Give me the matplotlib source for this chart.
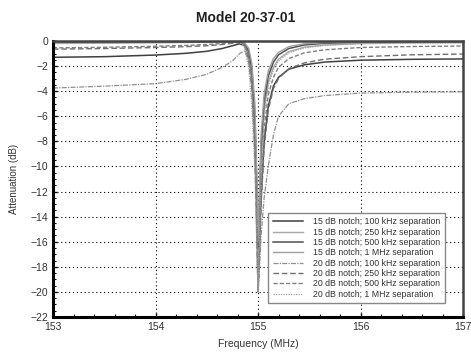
"""Notch filter response curves for Model 20-37-01."""

import matplotlib
matplotlib.use("Agg")
import matplotlib.pyplot as plt
from matplotlib.ticker import MultipleLocator

plt.rcParams["font.family"] = ["Liberation Sans", "DejaVu Sans"]

# frequency grid shared by all curves (MHz)
freq = [153.0, 153.5, 154.0, 154.3, 154.5, 154.65, 154.75, 154.82, 154.87,
        154.91, 154.94, 154.97, 154.99, 155.0, 155.01, 155.03, 155.06, 155.1,
        155.15, 155.2, 155.3, 155.45, 155.65, 156.0, 156.5, 157.0]

# attenuation (dB) per configuration
n15_100k = [-1.30, -1.25, -1.12, -0.98, -0.82, -0.60, -0.38, -0.22, -0.35,
            -1.1, -2.8, -7.0, -13.5, -18.5, -17.0, -12.5, -8.0, -5.2,
            -3.6, -2.9, -2.25, -1.9, -1.68, -1.53, -1.46, -1.43]
n15_250k = [-0.20, -0.18, -0.15, -0.12, -0.10, -0.08, -0.07, -0.10, -0.30,
            -1.0, -2.6, -6.5, -13.0, -17.5, -15.0, -9.5, -5.5, -3.3,
            -2.1, -1.45, -0.85, -0.50, -0.32, -0.20, -0.15, -0.13]
n15_500k = [-0.10, -0.09, -0.07, -0.06, -0.05, -0.04, -0.04, -0.06, -0.22,
            -0.8, -2.2, -6.0, -12.0, -16.5, -14.0, -8.5, -4.8, -2.8,
            -1.7, -1.1, -0.60, -0.32, -0.18, -0.10, -0.07, -0.06]
n15_1m = [-0.05, -0.04, -0.03, -0.03, -0.02, -0.02, -0.02, -0.04, -0.15,
          -0.6, -1.8, -5.0, -11.0, -16.0, -13.0, -7.5, -4.2, -2.4,
          -1.4, -0.90, -0.45, -0.22, -0.12, -0.07, -0.05, -0.04]
n20_100k = [-3.75, -3.60, -3.40, -3.05, -2.65, -2.10, -1.60, -1.00, -0.80,
            -1.6, -3.5, -8.5, -15.0, -20.0, -19.0, -15.5, -12.5, -10.0,
            -7.5, -6.0, -5.0, -4.6, -4.35, -4.15, -4.08, -4.05]
n20_250k = [-0.65, -0.60, -0.52, -0.45, -0.38, -0.28, -0.18, -0.12, -0.40,
            -1.5, -3.8, -9.0, -16.0, -20.0, -18.0, -13.0, -8.5, -5.5,
            -3.8, -3.0, -2.2, -1.75, -1.45, -1.25, -1.10, -1.04]
n20_500k = [-0.55, -0.50, -0.42, -0.35, -0.28, -0.20, -0.12, -0.08, -0.30,
            -1.3, -3.4, -8.5, -15.5, -20.0, -17.5, -12.0, -7.0, -4.3,
            -2.9, -2.1, -1.4, -0.95, -0.70, -0.52, -0.44, -0.40]
n20_1m = [-0.15, -0.13, -0.10, -0.08, -0.06, -0.05, -0.05, -0.10, -0.50,
          -2.2, -5.2, -10.5, -17.0, -20.0, -16.5, -10.5, -6.0, -3.6,
          -2.3, -1.6, -0.95, -0.55, -0.35, -0.22, -0.17, -0.15]

labels = [
    "15 dB notch; 100 kHz separation",
    "15 dB notch; 250 kHz separation",
    "15 dB notch; 500 kHz separation",
    "15 dB notch; 1 MHz separation",
    "20 dB notch; 100 kHz separation",
    "20 dB notch; 250 kHz separation",
    "20 dB notch; 500 kHz separation",
    "20 dB notch; 1 MHz separation",
]
series = [n15_100k, n15_250k, n15_500k, n15_1m,
          n20_100k, n20_250k, n20_500k, n20_1m]

styles = [
    dict(color="#404040", ls="-", lw=1.1),
    dict(color="#a8a8a8", ls="-", lw=1.0),
    dict(color="#505050", ls="-", lw=1.1),
    dict(color="#a0a0a0", ls="-", lw=1.0),
    dict(color="#909090", ls=(0, (4, 1, 1, 1)), lw=0.9),
    dict(color="#707070", ls=(0, (4, 2)), lw=1.0),
    dict(color="#808080", ls=(0, (3, 1.5)), lw=1.0),
    dict(color="#a0a0a0", ls=(0, (1, 1)), lw=0.9),
]

fig = plt.figure(figsize=(4.71, 3.52), dpi=100)
ax = fig.add_axes([53 / 471, 1 - 317 / 352, 410 / 471, 276 / 352])

for vals, lab, st in zip(series, labels, styles):
    ax.plot(freq, vals, label=lab, **st)

ax.set_xlim(153, 157)
ax.set_ylim(-22, 0)
ax.xaxis.set_major_locator(MultipleLocator(1))
ax.xaxis.set_minor_locator(MultipleLocator(0.2))
ax.yaxis.set_major_locator(MultipleLocator(2))
ax.yaxis.set_minor_locator(MultipleLocator(0.5))
ax.grid(True, which="major", color="black", ls=(0, (1, 2.5)), lw=0.8)

ax.tick_params(which="both", direction="in", top=False, right=False,
               labelsize=7.5, labelcolor="#333333", color="black")
ax.tick_params(which="major", length=3, width=1)
ax.tick_params(which="minor", length=2, width=0.8)

for side in ("left", "bottom"):
    ax.spines[side].set_linewidth(2.2)
    ax.spines[side].set_color("black")
for side in ("top", "right"):
    ax.spines[side].set_linewidth(1.8)
    ax.spines[side].set_color("#444444")

ax.set_xlabel("Frequency (MHz)", fontsize=7.5, color="#333333", labelpad=5)
ax.set_ylabel("Attenuation (dB)", fontsize=7, color="#333333", labelpad=8)
fig.text(246 / 471, 1 - 18 / 352, "Model 20-37-01", ha="center", va="center",
         fontsize=10, fontweight="bold", color="#222222")

leg = ax.legend(loc="lower right", bbox_to_anchor=(0.966, 0.035),
                fontsize=6.3, handlelength=3.4, labelspacing=0.15,
                borderpad=0.5, handletextpad=1.2, fancybox=False,
                framealpha=1, edgecolor="#888888")
leg.get_frame().set_linewidth(1.0)
for t in leg.get_texts():
    t.set_color("#333333")

fig.savefig("out.png", dpi=100)
